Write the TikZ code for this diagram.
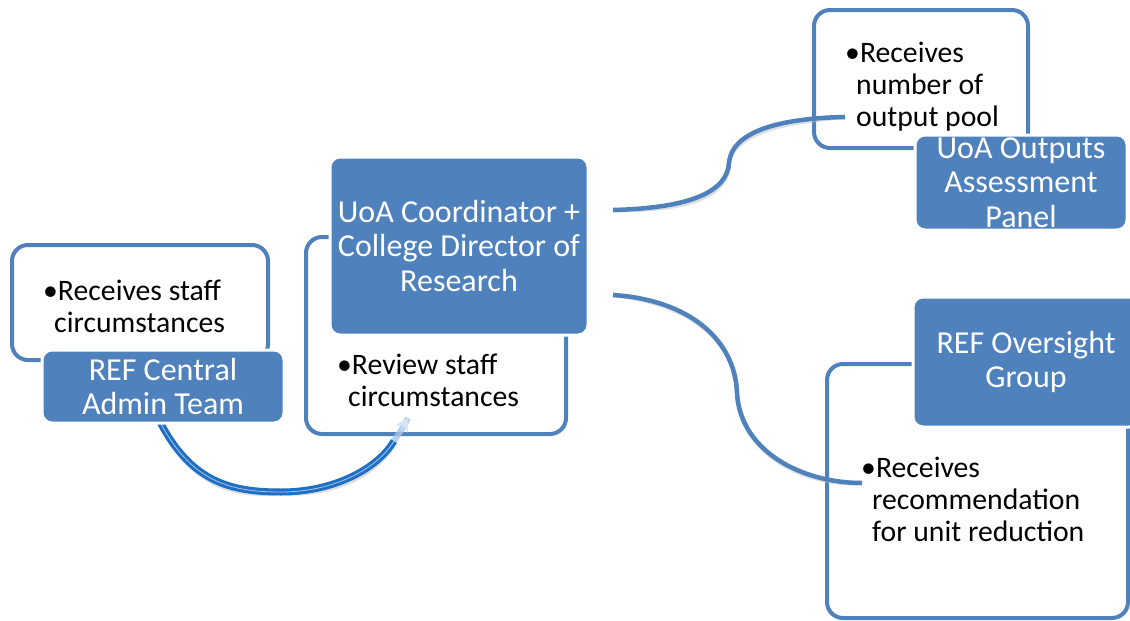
\documentclass[tikz,border=0pt]{standalone}
\usepackage{fontspec}
\setmainfont{Carlito}
\usetikzlibrary{arrows.meta}
\definecolor{accent}{HTML}{4F81BD}
\definecolor{arrowblue}{HTML}{1F6FC5}
\definecolor{arrowlight}{HTML}{D6E6F7}
\begin{document}
\begin{tikzpicture}[x=1pt,y=-1pt,
  outlinebox/.style={draw=accent, line width=4pt, rounded corners=16pt, fill=white, inner sep=0pt},
  bluebox/.style={draw=white, line width=3pt, fill=accent, rounded corners=10pt, text=white, align=center,
     font=\fontsize{32}{34.5}\selectfont, inner sep=0pt},
  itemtext/.style={text=black, align=left, font=\fontsize{29.7}{32}\selectfont, inner sep=0pt, anchor=west},
  link/.style={draw=accent, line width=4.5pt},
  linkshadow/.style={draw=black!25, line width=4.5pt, opacity=0.5},
]
\useasboundingbox (0,0) rectangle (1130,621);

% outline boxes
\node[outlinebox, minimum width=256pt, minimum height=115pt] (leftout) at (140,302.5) {};
\node[outlinebox, minimum width=260pt, minimum height=197pt] (midout) at (436,335.5) {};
\node[outlinebox, minimum width=214pt, minimum height=138pt] (topout) at (921,79) {};
\node[outlinebox, minimum width=301pt, minimum height=254pt] (botout) at (977.5,491) {};

% item texts
\node[itemtext] (lefttxt) at (43,306) {•Receives staff\\\hspace{11pt}circumstances};
\node[itemtext] (midtxt) at (337,380) {•Review staff\\\hspace{11pt}circumstances};
\node[itemtext] (toptxt) at (845,87) {•Receives\\\hspace{11pt}number of\\\hspace{11pt}output pool};
\node[itemtext] (bottxt) at (861,499) {•Receives\\\hspace{11pt}recommendation\\\hspace{11pt}for unit reduction};

% connector end points
\coordinate (c1s) at (613,210);
\coordinate (c1m) at (729,163);
\coordinate (c1e) at (845,117);
\coordinate (c2s) at (613,295);
\coordinate (c2m) at (737,393);
\coordinate (c2e) at (862,483);
\coordinate (as) at (158,418);
\coordinate (am) at (281,492);
\coordinate (af) at (394,441);
\coordinate (ae) at (408,418);

% shadows
\begin{scope}[shift={(1.5,3)}]
\draw[linkshadow] (c1s) .. controls (690,208) and (727,192) .. (c1m) .. controls (732,128) and (790,118) .. (c1e);
\draw[linkshadow] (c2s) .. controls (690,300) and (735,340) .. (c2m) .. controls (740,450) and (800,483) .. (c2e);
\draw[draw=black!25, line width=7pt, opacity=0.5] (as) .. controls (190,482) and (230,492) .. (am) .. controls (335,492) and (378,468) .. (af);
\end{scope}

% connectors
\draw[link] (c1s) .. controls (690,208) and (727,192) .. (c1m) .. controls (732,128) and (790,118) .. (c1e);
\draw[link] (c2s) .. controls (690,300) and (735,340) .. (c2m) .. controls (740,450) and (800,483) .. (c2e);

% curved arrow
\draw[draw=arrowblue, line width=7pt] (as) .. controls (190,482) and (230,492) .. (am) .. controls (335,492) and (378,468) .. (af);
\draw[draw=white, line width=0.8pt, opacity=0.6] (as) .. controls (190,482) and (230,492) .. (am) .. controls (335,492) and (378,468) .. (af);
\draw[draw=arrowblue!40, line width=6pt, opacity=0.8] (af) .. controls (400,432) and (404,426) .. (ae);
\draw[draw=arrowlight, line width=0.5pt, -{Stealth[length=13pt,width=15pt,fill=arrowlight]}] (401,430) -- (ae);

% blue boxes
\node[bluebox, minimum width=258pt, minimum height=178pt] (coord) at (459,246) {UoA Coordinator +\\College Director of\\Research};
\node[bluebox, minimum width=242pt, minimum height=73pt] (central) at (163,386.5) {REF Central\\Admin Team};
\node[bluebox, minimum width=212pt, minimum height=95pt] (panel) at (1021,182.5) {UoA Outputs\\Assessment\\Panel};
\node[bluebox, minimum width=226pt, minimum height=130pt] (oversight) at (1026,362) {REF Oversight\\Group};
\end{tikzpicture}
\end{document}
